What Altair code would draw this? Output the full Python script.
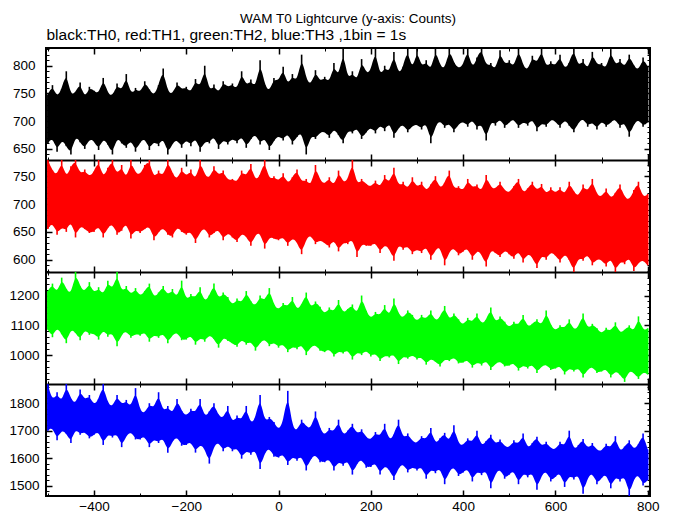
import altair as alt
import pandas as pd

# time bins (s), every 10 s from -500 to 800
t = list(range(-500, 801, 10))

# TH0 (black) upper / lower envelope of counts per 10 s
th0_hi = [748, 765, 742, 758, 790, 745, 752, 770, 740, 762,
          755, 748, 778, 750, 744, 768, 752, 785, 746, 760,
          750, 772, 757, 745, 765, 795, 752, 748, 770, 756,
          762, 750, 776, 758, 800, 752, 766, 749, 772, 760,
          768, 755, 790, 762, 775, 758, 810, 765, 752, 778,
          770, 798, 762, 785, 768, 820, 775, 764, 792, 770,
          780, 768, 805, 775, 832, 772, 790, 770, 812, 785,
          790, 832, 778, 800, 785, 825, 782, 798, 832, 788,
          832, 795, 810, 788, 832, 800, 792, 832, 805, 795,
          800, 832, 792, 815, 832, 798, 805, 790, 828, 800,
          810, 795, 832, 800, 790, 818, 802, 832, 795, 808,
          798, 820, 792, 805, 832, 796, 812, 790, 825, 800,
          805, 792, 830, 798, 812, 795, 820, 800, 790, 815, 798]
th0_lo = [660, 672, 645, 668, 655, 640, 675, 662, 650, 668,
          665, 648, 670, 658, 640, 672, 660, 652, 668, 645,
          662, 670, 648, 665, 655, 672, 640, 660, 668, 652,
          668, 655, 672, 645, 665, 660, 675, 650, 668, 658,
          670, 660, 675, 652, 668, 678, 658, 672, 648, 665,
          675, 665, 680, 658, 672, 682, 640, 676, 668, 680,
          682, 670, 688, 675, 660, 685, 678, 690, 668, 680,
          690, 678, 695, 682, 700, 670, 688, 695, 680, 692,
          695, 685, 700, 660, 692, 702, 688, 698, 680, 695,
          700, 690, 705, 685, 698, 665, 702, 692, 706, 688,
          698, 705, 688, 700, 692, 706, 682, 698, 690, 704,
          700, 688, 704, 692, 680, 698, 706, 690, 700, 685,
          702, 690, 698, 705, 688, 700, 672, 695, 704, 690, 698]

# TH1 (red)
th1_hi = [779, 760, 750, 779, 745, 768, 779, 752, 762, 748,
          758, 779, 745, 765, 779, 750, 770, 742, 779, 755,
          752, 770, 779, 745, 760, 748, 779, 755, 742, 765,
          748, 762, 740, 779, 752, 745, 768, 750, 760, 742,
          745, 738, 760, 748, 772, 740, 752, 779, 742, 750,
          740, 755, 735, 748, 762, 738, 745, 730, 770, 742,
          735, 748, 730, 760, 738, 742, 779, 732, 745, 736,
          730, 742, 728, 752, 735, 765, 730, 740, 725, 748,
          728, 740, 722, 735, 750, 726, 738, 760, 725, 732,
          722, 745, 728, 735, 720, 752, 730, 726, 740, 724,
          720, 732, 745, 718, 728, 740, 722, 736, 716, 730,
          718, 730, 715, 740, 722, 712, 735, 720, 745, 716,
          712, 728, 708, 720, 735, 712, 706, 725, 740, 710, 718]
th1_lo = [655, 668, 645, 660, 650, 672, 640, 662, 655, 648,
          650, 662, 640, 658, 665, 645, 652, 668, 638, 655,
          648, 655, 662, 635, 650, 658, 645, 640, 660, 650,
          645, 652, 630, 650, 658, 640, 648, 655, 635, 650,
          640, 632, 648, 642, 625, 645, 650, 620, 642, 638,
          635, 642, 625, 640, 632, 610, 638, 645, 628, 636,
          630, 622, 638, 615, 632, 628, 640, 605, 630, 625,
          625, 632, 612, 628, 620, 598, 630, 618, 626, 610,
          620, 612, 626, 600, 618, 625, 590, 615, 622, 608,
          615, 622, 600, 618, 610, 588, 620, 612, 605, 618,
          610, 602, 618, 595, 612, 605, 585, 610, 600, 615,
          608, 595, 612, 600, 578, 605, 598, 612, 590, 602,
          600, 588, 605, 578, 598, 592, 606, 580, 595, 600, 590]

# TH2 (green)
th2_hi = [1215, 1240, 1205, 1260, 1222, 1200, 1279, 1230, 1210, 1245,
          1205, 1228, 1198, 1250, 1215, 1279, 1208, 1232, 1200, 1225,
          1195, 1215, 1240, 1190, 1210, 1232, 1198, 1222, 1188, 1250,
          1180, 1205, 1190, 1228, 1175, 1200, 1240, 1185, 1210, 1195,
          1165, 1190, 1172, 1215, 1180, 1162, 1200, 1178, 1225, 1168,
          1150, 1175, 1160, 1195, 1148, 1170, 1210, 1155, 1180, 1162,
          1135, 1160, 1142, 1185, 1138, 1155, 1170, 1132, 1200, 1148,
          1120, 1145, 1130, 1168, 1125, 1190, 1138, 1122, 1150, 1135,
          1110, 1135, 1118, 1150, 1112, 1128, 1165, 1115, 1140, 1120,
          1098, 1125, 1108, 1140, 1102, 1118, 1160, 1105, 1130, 1112,
          1090, 1112, 1098, 1135, 1092, 1105, 1120, 1095, 1150, 1100,
          1080, 1100, 1088, 1120, 1082, 1095, 1140, 1085, 1105, 1090,
          1070, 1092, 1078, 1110, 1072, 1085, 1100, 1075, 1130, 1080, 1090]
th2_lo = [1085, 1060, 1095, 1070, 1040, 1090, 1075, 1050, 1088, 1068,
          1075, 1052, 1088, 1062, 1078, 1030, 1070, 1082, 1058, 1072,
          1065, 1080, 1045, 1070, 1058, 1075, 1040, 1068, 1078, 1050,
          1052, 1068, 1035, 1060, 1045, 1070, 1055, 1025, 1062, 1048,
          1040, 1028, 1055, 1035, 1048, 1015, 1042, 1055, 1030, 1045,
          1025, 1040, 1010, 1030, 1020, 1038, 1000, 1028, 1035, 1015,
          1010, 1022, 995, 1015, 1005, 1020, 985, 1012, 1000, 1018,
          995, 1008, 980, 1000, 992, 1005, 970, 998, 988, 1002,
          985, 995, 968, 990, 978, 962, 988, 980, 995, 972,
          975, 985, 958, 978, 965, 985, 950, 972, 980, 962,
          965, 975, 948, 968, 955, 972, 940, 962, 970, 950,
          955, 965, 935, 958, 945, 960, 925, 952, 962, 940,
          945, 955, 925, 948, 935, 910, 950, 940, 920, 945, 935]

# TH3 (blue)
th3_hi = [1870, 1805, 1840, 1800, 1870, 1815, 1795, 1850, 1808, 1830,
          1790, 1815, 1870, 1798, 1785, 1830, 1792, 1812, 1780, 1855,
          1770, 1762, 1800, 1778, 1840, 1765, 1790, 1758, 1815, 1772,
          1750, 1780, 1762, 1815, 1745, 1770, 1800, 1755, 1742, 1790,
          1725, 1755, 1735, 1790, 1720, 1745, 1830, 1728, 1750, 1732,
          1700, 1730, 1845, 1710, 1698, 1740, 1715, 1705, 1770, 1708,
          1680, 1710, 1692, 1740, 1678, 1700, 1725, 1685, 1705, 1676,
          1665, 1695, 1675, 1725, 1660, 1685, 1740, 1668, 1690, 1662,
          1652, 1680, 1665, 1710, 1648, 1672, 1692, 1655, 1720, 1650,
          1645, 1672, 1655, 1700, 1640, 1662, 1685, 1648, 1668, 1642,
          1638, 1665, 1648, 1690, 1632, 1655, 1678, 1640, 1660, 1635,
          1630, 1660, 1640, 1700, 1625, 1648, 1670, 1632, 1655, 1628,
          1625, 1652, 1635, 1680, 1620, 1642, 1665, 1628, 1650, 1690, 1632]
th3_lo = [1700, 1715, 1665, 1705, 1690, 1655, 1710, 1685, 1698, 1672,
          1685, 1700, 1648, 1690, 1675, 1692, 1640, 1682, 1698, 1668,
          1668, 1682, 1640, 1672, 1655, 1678, 1620, 1662, 1680, 1645,
          1648, 1662, 1620, 1652, 1635, 1580, 1645, 1660, 1625, 1650,
          1625, 1640, 1598, 1630, 1612, 1635, 1560, 1620, 1638, 1605,
          1602, 1618, 1575, 1608, 1590, 1612, 1555, 1598, 1615, 1585,
          1585, 1600, 1555, 1590, 1572, 1595, 1540, 1580, 1598, 1565,
          1568, 1585, 1540, 1575, 1558, 1520, 1565, 1582, 1548, 1570,
          1555, 1572, 1525, 1562, 1545, 1568, 1505, 1552, 1570, 1535,
          1548, 1565, 1515, 1555, 1538, 1560, 1490, 1545, 1562, 1525,
          1540, 1558, 1505, 1548, 1530, 1552, 1485, 1538, 1555, 1515,
          1532, 1550, 1495, 1540, 1522, 1545, 1470, 1530, 1548, 1505,
          1528, 1545, 1490, 1535, 1515, 1540, 1462, 1525, 1542, 1500, 1520]

x_major = [-400, -200, 0, 200, 400, 600, 800]
x_minor = [-500, -300, -100, 100, 300, 500, 700]

panels = [
    dict(hi=th0_hi, lo=th0_lo, color="#000000", ydom=[630, 832],
         ymaj=[650, 700, 750, 800], ymin=list(range(630, 833, 10)), ypad=11),
    dict(hi=th1_hi, lo=th1_lo, color="#ff0000", ydom=[578, 779],
         ymaj=[600, 650, 700, 750], ymin=list(range(580, 780, 10)), ypad=11),
    dict(hi=th2_hi, lo=th2_lo, color="#00ff00", ydom=[903, 1279],
         ymaj=[1000, 1100, 1200], ymin=list(range(920, 1280, 20)), ypad=7),
    dict(hi=th3_hi, lo=th3_lo, color="#0000ff", ydom=[1462, 1870],
         ymaj=[1500, 1600, 1700, 1800], ymin=list(range(1480, 1870, 20)), ypad=7),
]

SUBTITLE = "black:TH0, red:TH1, green:TH2, blue:TH3 ,1bin = 1s"
TITLE = "WAM T0 Lightcurve (y-axis: Counts)"

FONT = "Liberation Sans"
X_DOMAIN = [-504, 805]
W, H = 604, 112
HT = 4 * H


def axis(orient, values=None, size=0, width=1, offset=0, labels=False,
         extent=0, pad=7, domain=False, ticks=True, title=None):
    kw = dict(orient=orient, tickSize=size, offset=offset, labels=labels,
              domain=domain, ticks=ticks, grid=False, tickColor="black",
              tickWidth=width, labelFlush=False, labelFont=FONT,
              labelFontSize=13.5, labelColor="black", format="d",
              minExtent=extent, maxExtent=extent, labelPadding=pad,
              domainColor="black", domainWidth=2, title=title)
    if values is not None:
        kw["values"] = values
    if title is not None:
        kw.update(titleAnchor="start", titleAlign="left", titleFont=FONT,
                  titleFontSize=15.5, titleFontWeight="normal",
                  titleColor="black", titlePadding=12)
    return alt.Axis(**kw)


xs = alt.Scale(domain=X_DOMAIN, nice=False, zero=False)
layers = []
for k, p in enumerate(panels):
    df = pd.DataFrame({"t": t, "hi": p["hi"], "lo": p["lo"]})
    ys = alt.Scale(domain=p["ydom"], range=[H * (k + 1), H * k],
                   nice=False, zero=False, clamp=True)
    y_top, y_bot = H * k, H * (k + 1)
    last = k == len(panels) - 1

    # solid core of the light curve
    layers.append(alt.Chart(df).mark_area(color=p["color"], interpolate="basis",
                                          clip=True).encode(
        x=alt.X("t:Q", scale=xs, axis=axis("top", x_major, 6, 1.5, -(y_top + 6),
                                           title=SUBTITLE if k == 0 else None)),
        y=alt.Y("hi:Q", scale=ys, axis=axis("left", p["ymaj"], 6, 1.5, -6,
                                            labels=True, extent=44, pad=p["ypad"])),
        y2="lo:Q"))
    # spikes of the 1 s bins
    layers.append(alt.Chart(df).mark_rule(color=p["color"], strokeWidth=1.6,
                                          clip=True).encode(
        x=alt.X("t:Q", scale=xs, axis=axis("bottom", x_major, 6, 1.5,
                                           y_bot - 6 - HT, labels=last,
                                           extent=18 if last else 0, pad=3)),
        y=alt.Y("hi:Q", scale=ys, axis=axis("right", p["ymaj"], 6, 1.5, -6)),
        y2="lo:Q"))
    # minor ticks
    layers.append(alt.Chart(df).mark_area(opacity=0, clip=True).encode(
        x=alt.X("t:Q", scale=xs, axis=axis("top", x_minor, 3, 1, -(y_top + 3))),
        y=alt.Y("hi:Q", scale=ys, axis=axis("left", p["ymin"], 3, 1, -3)),
        y2="lo:Q"))
    layers.append(alt.Chart(df).mark_area(opacity=0, clip=True).encode(
        x=alt.X("t:Q", scale=xs, axis=axis("bottom", x_minor, 3, 1, y_bot - 3 - HT)),
        y=alt.Y("hi:Q", scale=ys, axis=axis("right", p["ymin"], 3, 1, -3)),
        y2="lo:Q"))
    # separator line between panels
    if k > 0:
        layers.append(alt.Chart(df).mark_area(opacity=0, clip=True).encode(
            x=alt.X("t:Q", scale=xs, axis=axis("top", offset=-y_top, domain=True,
                                               ticks=False)),
            y=alt.Y("hi:Q", scale=ys, axis=None),
            y2="lo:Q"))

chart = alt.layer(*layers).resolve_scale(y="independent").resolve_axis(
    x="independent", y="independent"
).properties(
    width=W, height=HT,
    title=alt.TitleParams(TITLE, anchor="middle", frame="group", font=FONT,
                          fontSize=13.5, fontWeight="normal", color="black", offset=2),
    padding={"left": 0, "top": 3, "right": 5, "bottom": 0},
).configure_view(stroke="black", strokeWidth=2)

chart.save("out.html", embed_options={"renderer": "svg", "actions": False})
